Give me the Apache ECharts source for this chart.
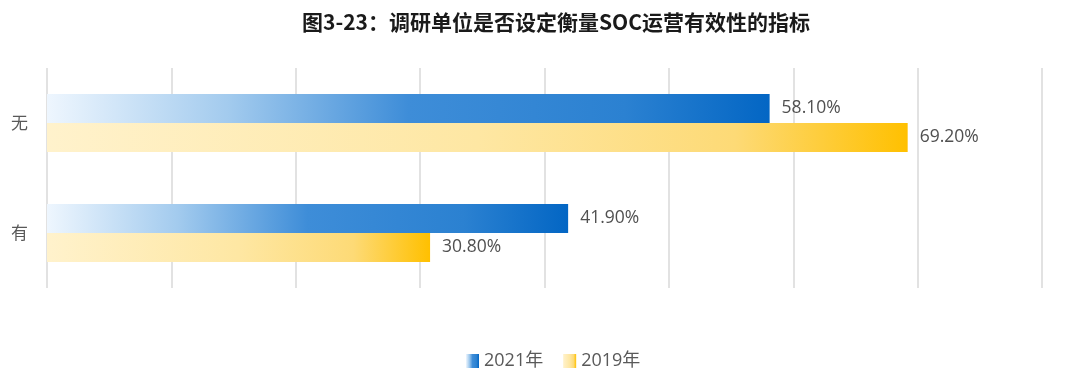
<!DOCTYPE html>
<html><head><meta charset="utf-8">
<script src="https://cdn.jsdelivr.net/npm/echarts@6/dist/echarts.min.js"></script>
<style>html,body{margin:0;padding:0;background:#fff}#c{width:1080px;height:381px}</style>
</head><body><div id="c"></div>
<script>
const titleText = '图3-23：调研单位是否设定衡量SOC运营有效性的指标';
const categories = ['有', '无'];
const seriesNames = ['2021年', '2019年'];
const values2021 = [41.9, 58.1];
const values2019 = [30.8, 69.2];

const font = '"Noto Sans CJK SC", sans-serif';
const numFont = '"Open Sans", "Noto Sans CJK SC", sans-serif';
const blueGrad = new echarts.graphic.LinearGradient(0, 0, 1, 0, [
  {offset: 0, color: '#eef6fe'}, {offset: 0.25, color: '#a3cbee'}, {offset: 0.5, color: '#3e8dd8'},
  {offset: 0.8, color: '#2b81d1'}, {offset: 1, color: '#0366c4'}]);
const yellowGrad = new echarts.graphic.LinearGradient(0, 0, 1, 0, [
  {offset: 0, color: '#fff2cc'}, {offset: 0.5, color: '#fee7a3'}, {offset: 0.8, color: '#fdda76'},
  {offset: 1, color: '#ffc000'}]);

const chart = echarts.init(document.getElementById('c'));
const label = {show: true, position: 'right', distance: 12, color: '#505050', fontSize: 17.5, fontFamily: numFont,
  formatter: p => p.value.toFixed(2) + '%'};
chart.setOption({
  animation: false,
  title: {text: titleText, left: 297, top: 7,
    textStyle: {fontSize: 21, fontWeight: 'bold', color: '#1a1a1a', fontFamily: font}},
  legend: {data: seriesNames, bottom: 6, left: 461, itemWidth: 13, itemHeight: 14, itemGap: 20,
    icon: 'rect', textStyle: {fontSize: 18, color: '#595959', fontFamily: numFont}},
  grid: {left: 47, right: 38, top: 68, bottom: 93, containLabel: false},
  xAxis: {type: 'value', min: 0, max: 80, interval: 10,
    axisLabel: {show: false}, axisLine: {show: false}, axisTick: {show: false},
    splitLine: {show: true, lineStyle: {color: '#d9d9d9', width: 1.5}}},
  yAxis: {type: 'category', data: categories,
    axisLine: {show: false}, axisTick: {show: false},
    axisLabel: {margin: 19, fontSize: 17, color: '#595959', fontFamily: font}},
  series: [
    {name: seriesNames[0], type: 'bar', data: values2021, barWidth: 29, barGap: '0%', barCategoryGap: '47%',
      itemStyle: {color: blueGrad}, label: label},
    {name: seriesNames[1], type: 'bar', data: values2019, barWidth: 29, barGap: '0%', barCategoryGap: '47%',
      itemStyle: {color: yellowGrad}, label: label}
  ]
});
</script></body></html>
